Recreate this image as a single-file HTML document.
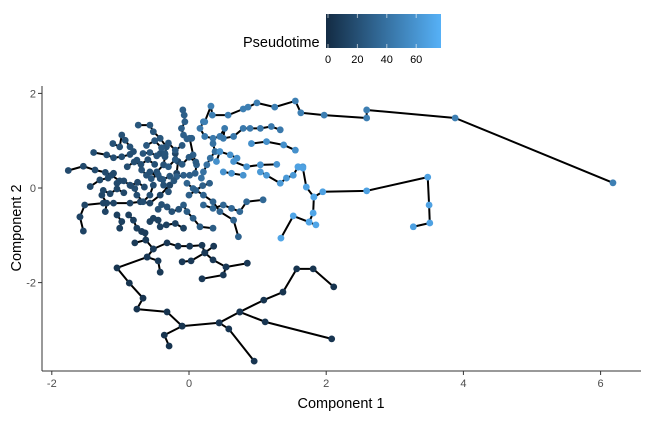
<!DOCTYPE html>
<html><head><meta charset="utf-8"><style>
html,body{margin:0;padding:0;background:#fff;}
svg text{font-family:"Liberation Sans",Arial,sans-serif;}
</style></head><body>
<svg id="chart" width="648" height="417" viewBox="0 0 648 417" xmlns="http://www.w3.org/2000/svg">
<defs><linearGradient id="grad" x1="0" x2="1" y1="0" y2="0"><stop offset="0" stop-color="#132B43"/><stop offset="1" stop-color="#56B1F7"/></linearGradient></defs>
<g>
<text x="243" y="47" font-size="14.5" fill="#000">Pseudotime</text>
<rect x="326" y="14" width="115" height="34" fill="url(#grad)"/>
<g id="cbticks"></g>
</g>
<g id="edges"></g>
<g id="points"></g>
<g id="axes">
<line x1="42" y1="86" x2="42" y2="371" stroke="#333" stroke-width="1"/>
<line x1="42" y1="371" x2="641" y2="371" stroke="#333" stroke-width="1"/>
</g>
<text x="341" y="408" font-size="14.5" text-anchor="middle">Component 1</text>
<text transform="translate(21,228) rotate(-90)" font-size="14.5" text-anchor="middle">Component 2</text>
</svg>
<script>
const xTicks = [-2, 0, 2, 4, 6];
const yTicks = [-2, 0, 2];
const cbTicks = [0, 20, 40, 60];
const timeMax = 77;
const branchXs = [
 [-1.76,-1.54,-1.37,-1.22,-1.13,-1.01],
 [-1.39,-1.20,-1.10,-0.98,-0.86,-0.81],
 [-1.11,-1.01,-0.98,-0.93,-0.86],
 [-0.74,-0.57,-0.52,-0.42,-0.33,-0.35],
 [-0.09,-0.07,-0.06,-0.11,-0.08,-0.03,0.04],
 [-1.59,-1.52,-1.25,-1.10,-0.86,-0.71,-0.57,-0.42,-0.28,-0.18,-0.16,-0.20],
 [-1.54,-1.59],
 [-1.27,-1.20,-1.22],
 [-1.44,-1.30,-1.18,-1.10],
 [-1.05,-0.98,-1.01],
 [-0.88,-0.81,-0.76,-0.69],
 [-0.57,-0.52,-0.45,-0.42,-0.33,-0.20,-0.08],
 [0.01,0.06,0.11,0.09,0.01,-0.08,-0.18],
 [-0.03,0.06,0.21,0.35,0.45,0.65,0.72],
 [0.21,0.35,0.50,0.62,0.74,0.84,1.08],
 [-0.08,-0.03,0.06,0.16,0.35],
 [-0.76,-0.69,-0.62,-0.47,-0.37,-0.35,-0.42],
 [-0.67,-0.57,-0.47,-0.35,-0.33],
 [0.21,0.16,0.23,0.35,0.45,0.52,0.50,0.65,0.79,0.89,1.04,1.20,1.33],
 [0.35,0.38,0.31,0.26,0.21,0.18],
 [0.40,0.45,0.60,0.70],
 [0.50,0.62,0.79],
 [0.91,1.13,1.38,1.55],
 [0.65,0.84,1.04,1.28],
 [1.04,1.13,1.33,1.42,1.52,1.59,1.66],
 [-0.86,-0.79,-0.76,-0.67,-0.57,-0.52],
 [-0.57,-0.42,-0.37,-0.30],
 [-0.62,-0.50,-0.40,-0.30,-0.20,-0.10],
 [-0.90,-0.80,-0.70,-0.60,-0.50],
 [-0.30,-0.20,-0.10,0.00,0.10],
 [0.00,0.10,0.20,0.30],
 [0.23,0.32,0.34,0.57,0.79,0.86,0.99,1.25,1.55,1.63,1.97,2.59,2.59,3.88,6.18],
 [1.59,1.66,1.71,1.82,1.95,2.59,3.48,3.50,3.51,3.27],
 [1.82,1.81,1.75,1.85],
 [1.34,1.52,1.75],
 [-0.61,-1.05,-0.87,-0.67,-0.76,-0.32,-0.10,0.44,0.74,1.09,1.37,1.57,1.81,2.11],
 [-0.10,-0.36,-0.29],
 [0.44,0.58,0.95],
 [0.74,1.11,2.08],
 [0.19,0.50,0.54,0.85],
 [0.54,0.35,0.23,0.36],
 [0.23,0.19,0.01,-0.16,-0.32,-0.52,-0.61,-0.45,-0.42],
 [-0.10,0.03,0.23],
 [-0.69,-0.64,-0.63,-0.52],
 [-0.79,-0.63],
 [-1.05,-0.95,-0.85,-0.75,-0.65],
 [-0.55,-0.45,-0.38,-0.28,-0.22],
 [-1.25,-1.15,-1.05,-0.95],
 [-0.45,-0.40,-0.32,-0.25,-0.15]
];
const branchYs = [
 [0.37,0.46,0.38,0.33,0.27,0.15],
 [0.75,0.70,0.64,0.66,0.71,0.77],
 [0.94,0.87,1.12,1.01,0.87],
 [1.33,1.33,1.19,1.05,0.87,0.73],
 [1.65,1.54,1.40,1.26,1.12,1.04,1.05],
 [-0.61,-0.36,-0.32,-0.32,-0.32,-0.29,-0.32,-0.15,0.06,0.31,0.56,0.73],
 [-0.91,-0.61],
 [-0.15,-0.32,-0.50],
 [0.03,0.17,0.21,0.31],
 [-0.57,-0.71,-0.85],
 [-0.57,-0.68,-0.85,-0.92],
 [-0.71,-0.64,-0.68,-0.82,-0.78,-0.75,-0.85],
 [1.05,0.70,0.49,0.31,0.27,0.27,0.24],
 [0.10,-0.01,-0.15,-0.29,-0.50,-0.68,-1.03],
 [-0.36,-0.43,-0.36,-0.43,-0.50,-0.29,-0.25],
 [-0.36,-0.50,-0.64,-0.82,-0.85],
 [0.59,0.38,0.27,0.34,0.49,0.66,0.73],
 [0.73,0.75,0.68,0.71,0.87],
 [1.40,1.26,1.09,1.05,1.09,1.26,1.05,1.09,1.26,1.26,1.26,1.30,1.23],
 [0.94,0.77,0.63,0.49,0.34,0.21],
 [0.56,0.77,0.70,0.63],
 [0.34,0.31,0.27],
 [0.94,0.98,0.91,0.80],
 [0.56,0.45,0.49,0.50],
 [0.34,0.27,0.10,0.21,0.27,0.45,0.45],
 [0.06,-0.01,-0.15,-0.29,-0.15,0.06],
 [0.34,0.20,0.06,-0.08],
 [0.90,1.00,0.85,0.95,0.80,0.90],
 [0.45,0.55,0.50,0.60,0.50],
 [0.45,0.60,0.50,0.65,0.55],
 [-0.15,-0.05,0.05,0.10],
 [1.40,1.73,1.54,1.54,1.67,1.71,1.80,1.71,1.84,1.59,1.54,1.48,1.65,1.48,0.11],
 [0.44,0.42,0.02,-0.19,-0.08,-0.06,0.23,-0.36,-0.74,-0.82],
 [-0.19,-0.53,-0.72,-0.78],
 [-1.06,-0.59,-0.72],
 [-1.46,-1.69,-2.01,-2.33,-2.56,-2.62,-2.92,-2.85,-2.62,-2.37,-2.20,-1.71,-1.71,-2.09],
 [-2.92,-3.11,-3.34],
 [-2.85,-2.98,-3.66],
 [-2.62,-2.83,-3.19],
 [-1.92,-1.84,-1.67,-1.59],
 [-1.67,-1.52,-1.37,-1.23],
 [-1.37,-1.21,-1.23,-1.23,-1.16,-1.29,-1.46,-1.54,-1.78],
 [-1.56,-1.54,-1.37],
 [-0.92,-0.95,-1.10,-1.29],
 [-1.16,-1.10],
 [0.10,0.15,0.05,0.12,0.02],
 [0.20,0.28,0.18,0.25,0.15],
 [-0.05,-0.12,-0.02,-0.10],
 [-0.45,-0.35,-0.40,-0.50,-0.45]
];
const branchTime = [18,20,22,25,30,15,14,15,17,12,12,13,30,32,35,28,22,24,45,40,58,60,58,60,63,20,22,26,20,27,30,48,68,70,70,5,5,6,6,8,8,8,8,10,9,18,24,16,22];

const NS = 'http://www.w3.org/2000/svg';
const sx = v => 189 + v * 68.6;
const sy = v => 188 - v * 47.3;
const cbx = v => 328 + v * 1.47;
function col(t){
  const f = Math.max(0, Math.min(1, t / timeMax));
  const a=[0x13,0x2B,0x43], b=[0x56,0xB1,0xF7];
  return 'rgb(' + a.map((c,i)=>Math.round(c+(b[i]-c)*f)).join(',') + ')';
}
const axes = document.getElementById('axes');
xTicks.forEach(v => {
  const l = document.createElementNS(NS,'line');
  l.setAttribute('x1',sx(v)); l.setAttribute('x2',sx(v)); l.setAttribute('y1',371); l.setAttribute('y2',375);
  l.setAttribute('stroke','#333');
  
  
  axes.appendChild(l);
  const t = document.createElementNS(NS,'text');
  t.setAttribute('x',sx(v)); t.setAttribute('y',387); t.setAttribute('font-size','11'); t.setAttribute('fill','#4d4d4d'); t.setAttribute('text-anchor','middle');
  t.textContent = v;
  
  
  axes.appendChild(t);
});
yTicks.forEach(v => {
  const l = document.createElementNS(NS,'line');
  l.setAttribute('x1',38); l.setAttribute('x2',42); l.setAttribute('y1',sy(v)); l.setAttribute('y2',sy(v));
  l.setAttribute('stroke','#333');
  
  
  axes.appendChild(l);
  const t = document.createElementNS(NS,'text');
  t.setAttribute('x',36); t.setAttribute('y',sy(v)+4); t.setAttribute('font-size','11'); t.setAttribute('fill','#4d4d4d'); t.setAttribute('text-anchor','end');
  t.textContent = v;
  
  
  axes.appendChild(t);
});
const cbg = document.getElementById('cbticks');
cbTicks.forEach(v => {
  [[14,18],[44,48]].forEach(p => {
    const l = document.createElementNS(NS,'line');
    l.setAttribute('x1',cbx(v)); l.setAttribute('x2',cbx(v)); l.setAttribute('y1',p[0]); l.setAttribute('y2',p[1]);
    l.setAttribute('stroke','#fff'); l.setAttribute('stroke-opacity','0.6');
    
    
    cbg.appendChild(l);
  });
  const t = document.createElementNS(NS,'text');
  t.setAttribute('x',cbx(v)); t.setAttribute('y',63); t.setAttribute('font-size','11'); t.setAttribute('text-anchor','middle');
  t.textContent = v;
  
  
  cbg.appendChild(t);
});
const eg = document.getElementById('edges');
const pg = document.getElementById('points');
branchXs.forEach((xs, i) => {
  const ys = branchYs[i];
  const pl = document.createElementNS(NS,'polyline');
  pl.setAttribute('points', xs.map((x,j)=>sx(x)+','+sy(ys[j])).join(' '));
  pl.setAttribute('fill','none'); pl.setAttribute('stroke','#000'); pl.setAttribute('stroke-width','2'); pl.setAttribute('stroke-linejoin','round');
  
  
  eg.appendChild(pl);
  xs.forEach((x,j) => {
    const c = document.createElementNS(NS,'circle');
    c.setAttribute('cx',sx(x)); c.setAttribute('cy',sy(ys[j])); c.setAttribute('r',3.4);
    c.setAttribute('fill', col(branchTime[i]));
    
    
    pg.appendChild(c);
  });
});
</script>
</body></html>
